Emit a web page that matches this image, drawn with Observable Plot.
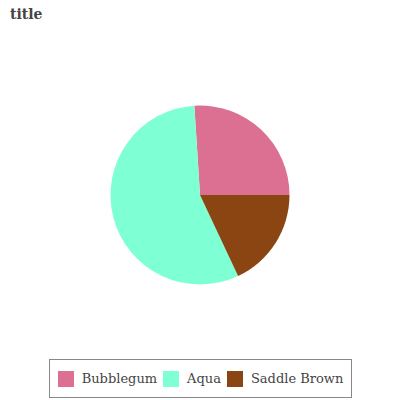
<!DOCTYPE html>
<html>
<head>
<meta charset="utf-8">
<script src="https://cdn.jsdelivr.net/npm/d3@7"></script>
<script src="https://cdn.jsdelivr.net/npm/@observablehq/plot@0.6"></script>
<style>
  html, body { margin: 0; padding: 0; background: #fff; }
  #wrap { position: relative; width: 400px; height: 400px; overflow: hidden; font-family: "DejaVu Serif", serif; }
  #title { position: absolute; left: 10px; top: 6px; font-size: 14px; font-weight: bold; color: #444; }
  #chart { position: absolute; left: 0; top: 0; }
  #legend { position: absolute; left: 49px; top: 359px; width: 301px; height: 37px; border: 1px solid #888;
            display: flex; align-items: center; justify-content: center; gap: 0; font-size: 13px; color: #444; box-sizing: content-box; }
  .item { display: flex; align-items: center; margin: 0 3px; }
  .sw { width: 16px; height: 16px; margin-right: 8px; }
</style>
</head>
<body>
<div id="wrap">
  <div id="chart"></div>
  <div id="title">title</div>
  <div id="legend"></div>
</div>
<script>
const categories = ["Bubblegum", "Aqua", "Saddle Brown"];
const values = [26, 56, 18];
const colors = ["#DB7093", "#7FFFD4", "#8B4513"];

const data = categories.map((c, i) => ({category: c, value: values[i]}));
const colorScale = Plot.scale({color: {type: "ordinal", domain: categories, range: colors}});

const pieMark = (index, scales, channels, dimensions) => {
  const {width, height, marginLeft, marginRight, marginTop, marginBottom} = dimensions;
  const cx = marginLeft + (width - marginLeft - marginRight) / 2;
  const cy = marginTop + (height - marginTop - marginBottom) / 2;
  const r = 89.5;
  const pie = d3.pie().sort(null).value(d => d.value)
    .startAngle(Math.PI / 2).endAngle(Math.PI / 2 - 2 * Math.PI);
  const arc = d3.arc().innerRadius(0).outerRadius(r);
  const g = d3.create("svg:g").attr("transform", `translate(${cx},${cy})`);
  g.selectAll("path").data(pie(data)).join("path")
    .attr("d", arc)
    .attr("fill", d => colorScale.apply(d.data.category));
  return g.node();
};

const chart = Plot.plot({
  width: 400,
  height: 400,
  marginTop: 40,
  marginBottom: 50,
  marginLeft: 20,
  marginRight: 20,
  x: {axis: null},
  y: {axis: null},
  marks: [pieMark]
});
document.getElementById("chart").appendChild(chart);

const legend = document.getElementById("legend");
categories.forEach(c => {
  const item = document.createElement("div");
  item.className = "item";
  const sw = document.createElement("div");
  sw.className = "sw";
  sw.style.background = colorScale.apply(c);
  const label = document.createElement("span");
  label.textContent = c;
  item.appendChild(sw);
  item.appendChild(label);
  legend.appendChild(item);
});
</script>
</body>
</html>
